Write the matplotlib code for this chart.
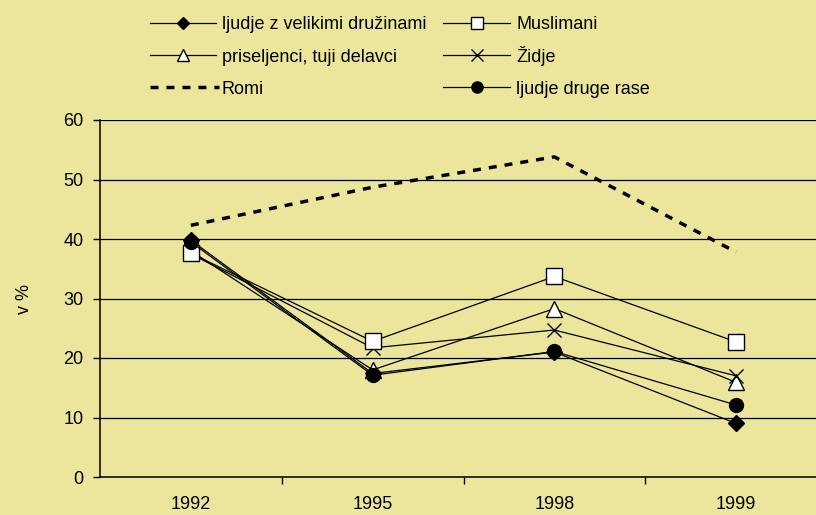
import matplotlib
matplotlib.use("Agg")
import matplotlib.pyplot as plt
from matplotlib.lines import Line2D
from matplotlib.ticker import FixedLocator

plt.rcParams['font.family'] = ['Liberation Sans', 'DejaVu Sans']

years = ["1992", "1995", "1998", "1999"]
velike_druzine = [39.8, 17.4, 21.0, 9.0]
muslimani = [37.6, 22.8, 33.7, 22.7]
priseljenci = [38.0, 18.0, 28.3, 15.9]
zidje = [37.5, 21.7, 24.7, 17.0]
romi = [42.3, 48.7, 53.8, 37.8]
druge_rase = [39.5, 17.1, 21.1, 12.1]

bg = "#EBE69C"
fs = 13
W, H = 816, 515

fig = plt.figure(figsize=(W / 100, H / 100), dpi=100, facecolor=bg)
ax = fig.add_axes([100 / W, 38 / H, 727 / W, 357 / H], facecolor=bg)

x = list(range(len(years)))
thin = dict(color="black", linewidth=0.9)

styles = {
    "ljudje z velikimi družinami": dict(marker="D", markersize=8, markerfacecolor="black",
                                        markeredgecolor="black", zorder=3, **thin),
    "priseljenci, tuji delavci": dict(marker="^", markersize=11, markerfacecolor="white",
                                      markeredgecolor="black", markeredgewidth=1.0,
                                      zorder=4, **thin),
    "Židje": dict(marker="x", markersize=10, markeredgewidth=1.0,
                  markeredgecolor="black", zorder=5, **thin),
    "Muslimani": dict(marker="s", markersize=11, markerfacecolor="white",
                      markeredgecolor="black", markeredgewidth=1.0, zorder=6, **thin),
    "Romi": dict(color="black", linewidth=2.5, dashes=(2.3, 2.3), zorder=3),
    "ljudje druge rase": dict(marker="o", markersize=10, markerfacecolor="black",
                              markeredgecolor="black", zorder=7, **thin),
}
series = {
    "ljudje z velikimi družinami": velike_druzine,
    "priseljenci, tuji delavci": priseljenci,
    "Židje": zidje,
    "Muslimani": muslimani,
    "Romi": romi,
    "ljudje druge rase": druge_rase,
}
for name, vals in series.items():
    ax.plot(x, vals, label=name, **styles[name])

ax.set_xlim(-0.5, 3.5)
ax.set_ylim(0, 60)
ax.set_yticks(range(0, 61, 10))
ax.set_xticks(x)
ax.set_xticklabels(years)
ax.xaxis.set_minor_locator(FixedLocator([0.5, 1.5, 2.5]))
ax.tick_params(axis="x", which="major", length=0, pad=14, labelsize=fs)
ax.tick_params(axis="x", which="minor", length=5, width=1, direction="out", color="black")
ax.tick_params(axis="y", length=5, width=1, direction="out", pad=7, labelsize=fs, color="black")
ax.grid(axis="y", color="black", linewidth=0.9, zorder=1)
ax.set_axisbelow(True)
for side in ("top", "right"):
    ax.spines[side].set_visible(False)
for side in ("left", "bottom"):
    ax.spines[side].set_linewidth(1.1)
    ax.spines[side].set_color("black")

ax.set_ylabel("v %", fontsize=fs, labelpad=22)

# Legend laid out as a 3x2 grid with rows aligned across both columns
legend_layout = [
    ("ljudje z velikimi družinami", 0, 0), ("Muslimani", 1, 0),
    ("priseljenci, tuji delavci", 0, 1), ("Židje", 1, 1),
    ("Romi", 0, 2), ("ljudje druge rase", 1, 2),
]
col_x = [(150, 216), (443, 510)]
row_y = [22.5, 55, 87]
legend_marker = {"D": 6.5, "s": 8, "^": 8.5, "x": 8, "o": 8}
for name, c, r in legend_layout:
    x0, x1 = col_x[c]
    y = 1 - row_y[r] / H
    st = dict(styles[name])
    st.pop("zorder", None)
    tx = x1 + 6
    if name == "Romi":
        fig.add_artist(Line2D([x0 / W, 219 / W], [y, y], transform=fig.transFigure, **st))
        tx = 222
    else:
        m = st.pop("marker")
        st.pop("markersize")
        fig.add_artist(Line2D([x0 / W, x1 / W], [y, y], transform=fig.transFigure,
                              color="black", linewidth=0.9))
        st.pop("color", None)
        st.pop("linewidth", None)
        fig.add_artist(Line2D([(x0 + x1) / 2 / W], [y], transform=fig.transFigure,
                              linestyle="none", marker=m, markersize=legend_marker[m], **st))
    fig.text(tx / W, 1 - (row_y[r] + 6.5) / H, name, fontsize=fs,
             ha="left", va="baseline")

fig.savefig("out.png", dpi=100, facecolor=bg)
